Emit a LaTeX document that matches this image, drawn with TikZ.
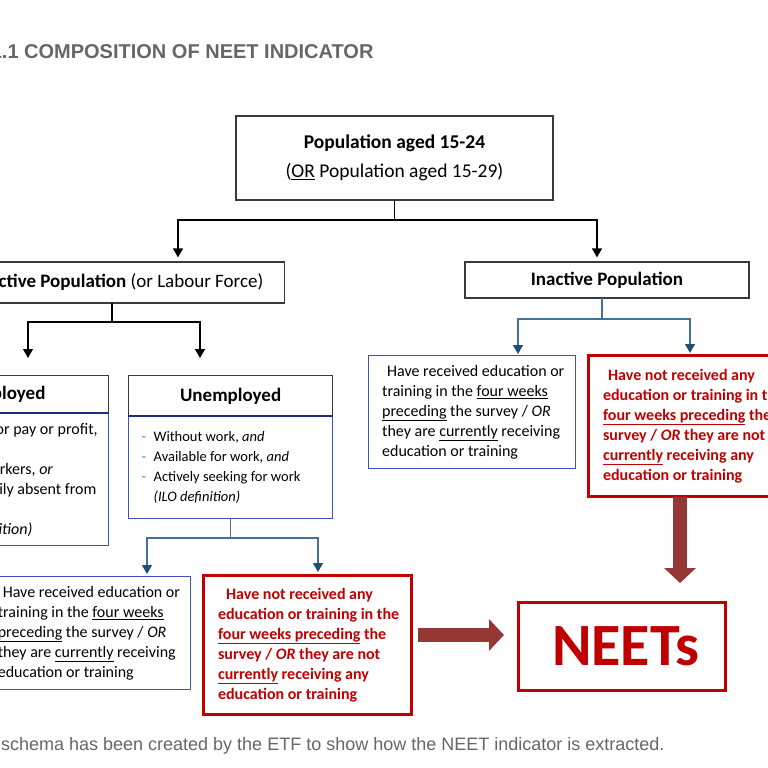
\documentclass[tikz,border=0pt]{standalone}
\usepackage{fontspec}
\setmainfont{Carlito}
\newfontfamily\arialf{Liberation Sans}
\usetikzlibrary{arrows.meta,calc}
\definecolor{boxgray}{HTML}{3A3A3A}
\definecolor{boxblue}{HTML}{4050C0}
\definecolor{hdrblue}{HTML}{1F2A80}
\definecolor{connblue}{HTML}{41719C}
\definecolor{tipblue}{HTML}{1F4E79}
\definecolor{dashc}{HTML}{5A7AA8}
\definecolor{neetred}{HTML}{C00000}
\definecolor{blockred}{HTML}{953735}
\definecolor{capgray}{HTML}{666666}
\newcommand{\dsh}{\makebox[12pt][l]{\textcolor{dashc}{-}}}
\newcommand{\bxt}[3]{\hspace*{#1}\parbox{#2}{\raggedright #3}}
\begin{document}
\begin{tikzpicture}[x=1pt,y=-1pt,
  graybox/.style={draw=boxgray,line width=1.3pt,inner sep=0pt},
  bluebox/.style={draw=boxblue,line width=1.3pt,inner sep=0pt},
  redbox/.style={draw=neetred,line width=3.2pt,inner sep=0pt,text=neetred,font=\fontsize{16}{20}\selectfont\bfseries},
  bigtxt/.style={font=\fontsize{19}{29}\selectfont},
  smalltxt/.style={font=\fontsize{14.5}{20}\selectfont},
  midtxt/.style={font=\fontsize{16}{20}\selectfont},
  conn/.style={line width=1.3pt,draw=black},
  bconn/.style={line width=1.3pt,draw=connblue},
  ktip/.style={-{Triangle[length=9pt,width=10pt]}},
  btip/.style={-{Triangle[length=9pt,width=10pt,color=tipblue]}},
  block/.style={line width=14pt,draw=blockred,-{Triangle[length=15pt,width=31pt]}},
]
\useasboundingbox[fill=white] (0,0) rectangle (768,768);

% title and caption
\node[anchor=east,text=capgray,font=\arialf\fontsize{20}{24}\selectfont\bfseries] (title) at (377,52) {FIGURE 1.1 COMPOSITION OF NEET INDICATOR};
\node[anchor=east,text=capgray,font=\arialf\fontsize{18}{22}\selectfont] (cap) at (668,746) {This schema has been created by the ETF to show how the NEET indicator is extracted.};

% top box
\node[graybox,bigtxt,align=center,minimum width=317pt,minimum height=84pt] (pop) at (394.5,158)
  {\fontsize{19.5}{29}\selectfont\textbf{Population aged 15-24}\\ \fontsize{19.5}{29}\selectfont(\underline{OR} Population aged 15-29)};

% second level
\node[graybox,bigtxt,anchor=east,minimum height=41pt,inner xsep=21pt] (act) at (285,282.5)
  {\textbf{Active Population} (or Labour Force)};
\node[graybox,bigtxt,minimum width=284pt,minimum height=36pt] (inact) at (607,280)
  {\textbf{Inactive Population}};

% employed
\node[graybox,anchor=north east,minimum width=204pt,minimum height=38pt,font=\fontsize{19}{23}\selectfont\bfseries] (emh) at (109,375) {Employed};
\node[bluebox,midtxt,anchor=north east,minimum width=204pt,minimum height=132pt] (emb) at (109,413)
  {\bxt{20pt}{183pt}{%
   \dsh Worked for pay or profit,\\
   \dsh Unpaid\\
   \hspace*{12pt}family workers, \textit{or}\\
   \dsh Temporarily absent from\\
   \hspace*{12pt}work\\
   \hspace*{12pt}\textit{(ILO definition)}}};
\draw[hdrblue,line width=1.6pt] (emb.north west) -- (emb.north east);

% unemployed
\node[graybox,anchor=north west,minimum width=204pt,minimum height=41pt,font=\fontsize{19}{23}\selectfont\bfseries] (unh) at (128,375) {Unemployed};
\node[bluebox,smalltxt,anchor=north west,minimum width=204pt,minimum height=102pt] (unb) at (128,416)
  {\bxt{12pt}{190pt}{%
   \dsh Without work, \textit{and}\\
   \dsh Available for work, \textit{and}\\
   \dsh Actively seeking for work\\
   \hspace*{12pt}\textit{(ILO definition)}}};
\draw[hdrblue,line width=1.6pt] (unb.north west) -- (unb.north east);

% inactive children
\node[bluebox,midtxt,anchor=north west,minimum width=207pt,minimum height=113pt] (ib) at (368,355)
  {\bxt{13pt}{193pt}{%
   \hspace*{5pt}Have received education or\\
   training in the \underline{four weeks}\\
   \underline{preceding} the survey / \textit{OR}\\
   they are \underline{currently} receiving\\
   education or training}};
\node[redbox,anchor=north west,minimum width=208pt,minimum height=141pt] (ir) at (587,354)
  {\bxt{14pt}{193pt}{%
   \hspace*{5pt}Have not received any\\
   education or training in the\\
   \underline{four weeks preceding} the\\
   survey / \textit{OR} they are not\\
   \underline{currently} receiving any\\
   education or training}};

% unemployed children
\node[bluebox,midtxt,anchor=north east,minimum width=206pt,minimum height=113pt] (bb) at (191,576)
  {\bxt{13pt}{192pt}{%
   \hspace*{5pt}Have received education or\\
   training in the \underline{four weeks}\\
   \underline{preceding} the survey / \textit{OR}\\
   they are \underline{currently} receiving\\
   education or training}};
\node[redbox,anchor=north west,minimum width=208pt,minimum height=139pt] (br) at (202,574)
  {\bxt{14pt}{193pt}{%
   \hspace*{8pt}Have not received any\\
   education or training in the\\
   \underline{four weeks preceding} the\\
   survey / \textit{OR} they are not\\
   \underline{currently} receiving any\\
   education or training}};

% NEETs
\node[draw=neetred,line width=2.8pt,anchor=north west,minimum width=207pt,minimum height=88pt,text=neetred,font=\fontsize{60}{60}\selectfont\bfseries] (neets) at (517,601) {\hspace*{8pt}NEETs};

% connectors
\coordinate (jA) at (178,220);
\coordinate (jI) at (597,220);
\draw[conn,ktip,shorten >=4pt] (pop.south) |- (jA) -- (act.north -| jA);
\draw[conn,ktip,shorten >=4pt] (pop.south) |- (jI) -- (inact.north -| jI);

\coordinate (aS) at (112,303);
\coordinate (jE) at (28,322);
\coordinate (jU) at (200,322);
\draw[conn,ktip,shorten >=17pt] (aS) |- (jE) -- (emh.north -| jE);
\draw[conn,ktip,shorten >=17pt] (aS) |- (jU) -- (unh.north -| jU);

\coordinate (iS) at (602,298);
\coordinate (jL) at (518,319);
\coordinate (jR) at (690,319);
\draw[bconn,btip,shorten >=1pt] (iS) |- (jL) -- (ib.north -| jL);
\draw[bconn,btip,shorten >=1pt] (iS) |- (jR) -- (ir.north -| jR);

\coordinate (kL) at (147,538);
\coordinate (kR) at (318,538);
\draw[bconn,btip,shorten >=2pt] (unb.south) |- (kL) -- (bb.north -| kL);
\draw[bconn,btip,shorten >=2pt] (unb.south) |- (kR) -- (br.north -| kR);

% block arrows
\coordinate (dA) at (680,497);
\coordinate (dB) at (680,583);
\draw[block] (dA) -- (dB);
\coordinate (hA) at (418,635);
\coordinate (hB) at (504,635);
\draw[block] (hA) -- (hB);
\end{tikzpicture}
\end{document}
